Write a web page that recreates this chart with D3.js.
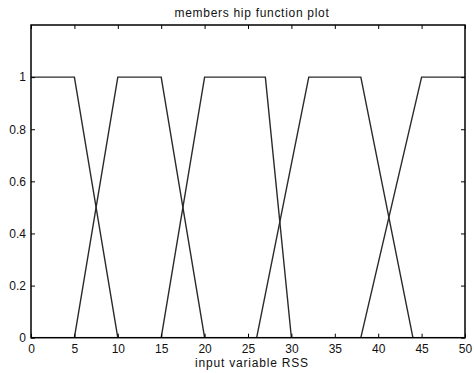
<!DOCTYPE html>
<html lang="en">
<head>
<meta charset="utf-8">
<script src="https://d3js.org/d3.v7.min.js"></script>
<style>
  body { margin: 0; background: #fff; }
  text { font-family: "Liberation Sans", Arial, sans-serif; }
</style>
</head>
<body>
<div id="my_dataviz"></div>
<script>
// tick labels
var xTicks = [0, 5, 10, 15, 20, 25, 30, 35, 40, 45, 50];
var yTicks = [0, 0.2, 0.4, 0.6, 0.8, 1];

// membership functions: breakpoints (x) and membership degree (y)
var mf1X = [0, 5, 10],          mf1Y = [1, 1, 0];
var mf2X = [5, 10, 15, 20],     mf2Y = [0, 1, 1, 0];
var mf3X = [15, 20, 27, 30],    mf3Y = [0, 1, 1, 0];
var mf4X = [26, 32, 38, 44],    mf4Y = [0, 1, 1, 0];
var mf5X = [38, 45, 50],        mf5Y = [0, 1, 1];

var mfs = [[mf1X, mf1Y], [mf2X, mf2Y], [mf3X, mf3Y], [mf4X, mf4Y], [mf5X, mf5Y]];

// dimensions
var W = 474, H = 373;
var margin = {top: 25, right: 9, bottom: 35.3, left: 31},
    width = W - margin.left - margin.right,
    height = H - margin.top - margin.bottom;

var svg = d3.select("#my_dataviz")
  .append("svg")
  .attr("width", W)
  .attr("height", H)
  .append("g")
  .attr("transform", "translate(" + margin.left + "," + margin.top + ")");

var x = d3.scaleLinear().domain([0, 50]).range([0, width]);
var y = d3.scaleLinear().domain([0, 1.2]).range([height, 0]);

// curves
var line = d3.line()
  .x(function(d) { return x(d[0]); })
  .y(function(d) { return y(d[1]); });

mfs.forEach(function(mf) {
  var pts = mf[0].map(function(v, i) { return [v, mf[1][i]]; });
  svg.append("path")
    .datum(pts)
    .attr("fill", "none")
    .attr("stroke", "#2a2a2a")
    .attr("stroke-width", 1.4)
    .attr("d", line);
});

// axes (ticks pointing inward, like matlab)
var styleAxis = function(g) {
  g.select(".domain").remove();
  g.selectAll(".tick line").attr("stroke", "#000").attr("stroke-width", 1);
  g.selectAll(".tick text").attr("fill", "#111").style("font-size", "12px")
    .style("font-family", "'Liberation Sans', Arial, sans-serif");
};

svg.append("g")
  .attr("transform", "translate(0," + height + ")")
  .call(d3.axisBottom(x).tickValues(xTicks).tickSize(-4).tickPadding(6.5).tickFormat(d3.format("d")))
  .call(styleAxis);

svg.append("g")
  .call(d3.axisTop(x).tickValues(xTicks).tickSize(-4).tickFormat(""))
  .call(styleAxis);

svg.append("g")
  .call(d3.axisLeft(y).tickValues(yTicks).tickSize(-4).tickPadding(5).tickFormat(function(d) { return d3.format("")(+d.toFixed(1)); }))
  .call(styleAxis);

svg.append("g")
  .attr("transform", "translate(" + width + ",0)")
  .call(d3.axisRight(y).tickValues(yTicks).tickSize(-4).tickFormat(""))
  .call(styleAxis);

// box
svg.append("rect")
  .attr("x", 0)
  .attr("y", 0)
  .attr("width", width)
  .attr("height", height)
  .attr("fill", "none")
  .attr("stroke", "#000")
  .attr("stroke-width", 1.5);

// title
svg.append("text")
  .attr("text-anchor", "middle")
  .attr("x", width / 2 + 4)
  .attr("y", -8)
  .style("font-size", "12px")
  .style("letter-spacing", "0.7px")
  .attr("fill", "#111")
  .text("members hip function plot");

// x label
svg.append("text")
  .attr("text-anchor", "middle")
  .attr("x", width / 2 + 4)
  .attr("y", height + 29)
  .style("font-size", "12px")
  .style("letter-spacing", "0.8px")
  .attr("fill", "#111")
  .text("input variable RSS");
</script>
</body>
</html>
